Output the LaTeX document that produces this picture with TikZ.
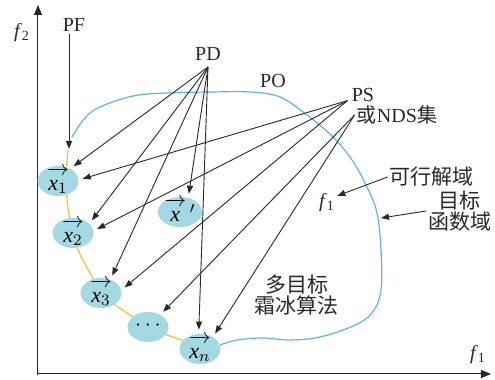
\documentclass[tikz,border=0pt]{standalone}
\usepackage{fontspec}
\setmainfont{Liberation Serif}
\newfontfamily\cjk{Noto Sans CJK SC}
\usetikzlibrary{arrows.meta,positioning,shapes.geometric}
\definecolor{solfill}{RGB}{163,217,227}
\definecolor{front}{RGB}{247,190,60}
\definecolor{dom}{RGB}{95,180,230}
\definecolor{ink}{RGB}{40,40,40}
\newcommand{\vx}[2]{\raisebox{-0.9ex}{$\overrightarrow{\rule{0pt}{1.6ex}\textit{x}#1}#2$}}
\tikzset{
  pt/.style={ellipse,fill=solfill,minimum width=20.5pt,minimum height=15pt,inner sep=0pt,
    text height=0pt,text depth=0pt,font=\fontsize{11}{12}\selectfont},
  arr/.style={-{Triangle[length=4pt,width=3pt]},draw=ink,line width=0.45pt,shorten >=2pt},
  axis/.style={-{Triangle[length=5pt,width=4pt]},draw=ink,line width=0.5pt},
  lbl/.style={font=\fontsize{10}{11}\selectfont,inner sep=1pt,text=ink},
  zh/.style={font=\cjk\fontsize{10.5}{10.5}\selectfont,inner sep=1pt,text=ink,align=center}
}
\begin{document}
\begin{tikzpicture}[x=0.5pt,y=-0.5pt]
\useasboundingbox (0,0) rectangle (495,380);
% axes
\coordinate (O) at (38,375);
\coordinate (ytop) at (38,5);
\coordinate (xend) at (491,374);
\draw[axis] (O) -- (ytop);
\draw[axis] (38,374) -- (xend);
\node[lbl] (f2) at (22,33) {\textit{f}\textsubscript{2}};
\node[lbl] (f1ax) at (478,355) {\textit{f}\textsubscript{1}};
% Pareto front and objective domain
\draw[front,line width=0.6pt] plot[smooth,tension=0.6] coordinates {(68,150) (66,182) (69,215) (76,245) (90,273) (104,295) (130,315) (160,332) (185,341)};
\draw[dom,line width=0.6pt] plot[smooth,tension=0.6] coordinates {(72,137) (85,118) (100,107) (133,96) (167,93) (210,92) (250,92) (280,97) (307,115) (333,137) (352,160) (367,187) (377,213) (381,250) (381,290) (372,313) (353,326) (320,337) (290,340) (263,338) (237,340) (220,345)};
% solutions
\node[pt] (x1) at (58,181) {\vx{_1}{}};
\node[pt] (x2) at (73,233) {\vx{_2}{}};
\node[pt] (x3) at (101,293) {\vx{_3}{}};
\node[pt] (dots) at (148,327) {\raisebox{-0.3ex}{$\cdots$}};
\node[pt] (xn) at (200,349) {\vx{_n}{}};
\node[pt] (xp) at (180,212) {\vx{}{\,{}^{\prime}}};
% labels
\node[lbl] (PF) at (74,25) {PF};
\node[lbl,inner sep=3pt] (PD) at (208,54) {PD};
\node[lbl] (PO) at (273,81) {PO};
\node[lbl,inner sep=2pt] (PS) at (363,95) {PS};
\node[lbl] (NDS) at (397,115) {{\cjk 或}NDS{\cjk 集}};
\node[zh] (kx) at (432,177) {可行解域};
\node[zh] (mb) at (460,211) {目标\\函数域};
\node[lbl] (fin) at (327,203) {\textit{f}\textsubscript{1}};
\node[zh] (alg) at (297,295) {多目标\\霜冰算法};
\coordinate (pftip) at (69,149);
\coordinate (bnd) at (381,218);
% connectors
\draw[arr,shorten >=0pt] (PF.south -| pftip) -- (pftip);
\foreach \t/\a in {x1/45,x2/30,x3/55,xp/60,xn/95}
  \draw[arr] (PD.south) -- (\t.\a);
\foreach \t/\a in {x1/3,x2/6,x3/8}
  \draw[arr] (PS.200) -- (\t.\a);
\foreach \t/\a in {dots/45,xn/43}
  \draw[arr] (NDS.west) -- (\t.\a);
\draw[arr,shorten >=0pt] (kx.west) -- (fin.35);
\draw[arr,shorten >=0pt] (mb.west) -- (bnd);
\end{tikzpicture}
\end{document}
